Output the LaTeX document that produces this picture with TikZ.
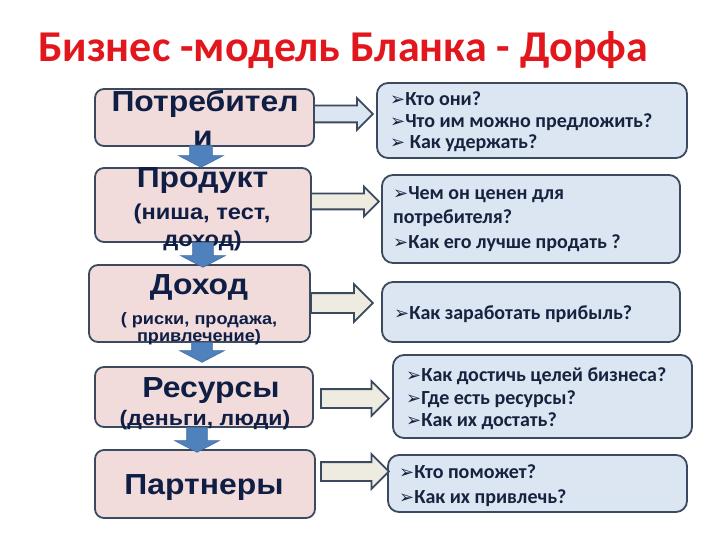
\documentclass[tikz,border=0pt]{standalone}
\usepackage{fontspec}
\usetikzlibrary{shapes.arrows}
\setmainfont{Carlito}
\newfontfamily\lft{Liberation Sans}[FakeStretch=1.1]
\newfontfamily\rgt{Carlito}
\newfontfamily\dv{DejaVu Sans}
\definecolor{bordc}{HTML}{3B4A5E}
\definecolor{pinkc}{HTML}{F2DCDB}
\definecolor{bluec}{HTML}{DCE6F2}
\definecolor{beigec}{HTML}{EEECE1}
\definecolor{downc}{HTML}{4F81BD}
\definecolor{navy}{HTML}{0F1E45}
\definecolor{navyr}{HTML}{17223F}
\definecolor{titlered}{HTML}{E2171D}
\newcommand{\bul}{{\dv\fontsize{18}{18}\selectfont ➢}}
\begin{document}
\begin{tikzpicture}[x=1pt,y=-1pt,
  lbox/.style={draw=bordc, line width=1.8pt, fill=pinkc, rounded corners=9pt},
  rbox/.style={draw=bordc, line width=1.8pt, fill=bluec, rounded corners=11pt},
  lhead/.style={font=\lft\bfseries\fontsize{29}{29}\selectfont, text=navy, anchor=base, inner sep=0pt},
  lsub/.style={font=\lft\bfseries\fontsize{#1}{#1}\selectfont, text=navy, anchor=base, inner sep=0pt},
  rtxt/.style={font=\rgt\bfseries\fontsize{20}{20}\selectfont, text=navyr, anchor=base west, inner sep=0pt},
  rarrow/.style={single arrow, draw=bordc, line width=1.8pt, fill=beigec, anchor=tail,
     inner xsep=0pt, single arrow tip angle=90},
  darrow/.style={single arrow, draw=downc!85!black, line width=0.6pt, fill=downc, anchor=tail,
     inner xsep=0pt, rotate=-90, single arrow tip angle=125}
]
\useasboundingbox (0,0) rectangle (720,540);
\fill[white] (0,0) rectangle (720,540);

% title
\node[anchor=base west, font=\rgt\bfseries\fontsize{44}{44}\selectfont, text=titlered, inner sep=0pt]
  (title) at (38,62) {Бизнес -модель Бланка - Дорфа};

% left boxes
\node[lbox, minimum width=219pt, minimum height=57pt] (L1) at (204.5,117.5) {};
\node[lbox, minimum width=216pt, minimum height=74pt] (L2) at (203,205) {};
\node[lbox, minimum width=221pt, minimum height=77pt] (L3) at (199.5,303.5) {};
\node[lbox, minimum width=218pt, minimum height=60pt] (L4) at (204,397) {};
\node[lbox, minimum width=220pt, minimum height=68pt] (L5) at (205,484) {};

% right boxes
\node[rbox, minimum width=310pt, minimum height=75pt] (R1) at (532,120.5) {};
\node[rbox, minimum width=298pt, minimum height=88pt] (R2) at (531,219) {};
\node[rbox, minimum width=298pt, minimum height=60pt] (R3) at (531,312) {};
\node[rbox, minimum width=299pt, minimum height=83pt] (R4) at (542.5,396.5) {};
\node[rbox, minimum width=299pt, minimum height=57pt] (R5) at (537.5,483.5) {};

% left texts
\node[lhead] (t1a) at (205,112) {Потребител};
\node[lhead] (t1b) at (203,147) {и};
\node[lhead] (t2a) at (202.5,188) {Продукт};
\node[lsub=21.5] (t2b) at (202,219) {(ниша, тест,};
\node[lsub=21.5] (t2c) at (202.5,246) {доход)};
\node[lhead] (t3a) at (199,294) {Доход};
\node[lsub=16.5] (t3b) at (199,324) {( риски, продажа,};
\node[lsub=16.5] (t3c) at (199,341) {привлечение)};
\node[lhead] (t4a) at (211,397) {Ресурсы};
\node[lsub=21] (t4b) at (205,425) {(деньги, люди)};
\node[lhead] (t5a) at (204,494) {Партнеры};

% right texts
\node[rtxt] (r1a) at (390,106) {\bul Кто они?};
\node[rtxt] (r1b) at (390,128) {\bul Что им можно предложить?};
\node[rtxt] (r1c) at (390,149) {\bul\ Как удержать?};
\node[rtxt] (r2a) at (393,200) {\bul Чем он ценен для};
\node[rtxt] (r2b) at (393,224) {потребителя?};
\node[rtxt] (r2c) at (393,248) {\bul Как его лучше продать ?};
\node[rtxt] (r3a) at (394,319) {\bul Как заработать прибыль?};
\node[rtxt] (r4a) at (406,381) {\bul Как достичь целей бизнеса?};
\node[rtxt] (r4b) at (406,404) {\bul Где есть ресурсы?};
\node[rtxt] (r4c) at (406,426) {\bul Как их достать?};
\node[rtxt] (r5a) at (399,478) {\bul Кто поможет?};
\node[rtxt] (r5b) at (399,503) {\bul Как их привлечь?};

% right block arrows
\node[rarrow, fill=bluec, inner ysep=7.5pt, single arrow head extend=7.5pt, minimum height=59pt] (a1) at (313,114) {};
\node[rarrow, inner ysep=7pt, single arrow head extend=7pt, minimum height=68pt] (a2) at (310,201.5) {};
\node[rarrow, inner ysep=9pt, single arrow head extend=9pt, minimum height=62pt] (a3) at (310,303) {};
\node[rarrow, inner ysep=8.5pt, single arrow head extend=8pt, minimum height=68pt] (a4) at (320,398.5) {};
\node[rarrow, inner ysep=8.5pt, single arrow head extend=8pt, minimum height=68pt] (a5) at (320,471.5) {};

% down arrows
\node[darrow, inner ysep=11pt, single arrow head extend=11pt, minimum height=22pt] (d1) at (201,145) {};
\node[darrow, inner ysep=10pt, single arrow head extend=12pt, minimum height=25pt] (d2) at (203,242) {};
\node[darrow, inner ysep=10pt, single arrow head extend=12pt, minimum height=20pt] (d3) at (202,342) {};
\node[darrow, inner ysep=10pt, single arrow head extend=12pt, minimum height=25pt] (d4) at (197,427) {};
\end{tikzpicture}
\end{document}
